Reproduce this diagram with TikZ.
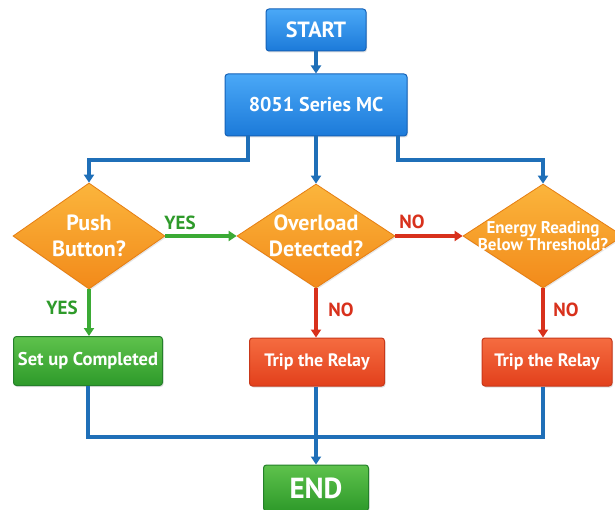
\documentclass[tikz,border=0pt]{standalone}
\usepackage{fontspec}
\setmainfont{PT Sans}
\usetikzlibrary{arrows.meta,shapes.geometric,shadows}
\definecolor{blueTop}{HTML}{4AA8F7}
\definecolor{blueBot}{HTML}{1C7AD9}
\definecolor{blueBorder}{HTML}{1562B8}
\definecolor{orTop}{HTML}{FBB53C}
\definecolor{orBot}{HTML}{F28A1A}
\definecolor{orBorder}{HTML}{E67E12}
\definecolor{grTop}{HTML}{5EC24C}
\definecolor{grBot}{HTML}{2E9A2A}
\definecolor{grBorder}{HTML}{24802A}
\definecolor{rdTop}{HTML}{F56C40}
\definecolor{rdBot}{HTML}{E2401C}
\definecolor{rdBorder}{HTML}{C8381A}
\definecolor{lineBlue}{HTML}{1F6FB8}
\definecolor{lineGreen}{HTML}{3BAA35}
\definecolor{lineRed}{HTML}{D8311C}
\definecolor{txtGreen}{HTML}{2E9A2A}
\definecolor{txtRed}{HTML}{D8311C}
\tikzset{
  box/.style={rectangle, rounded corners=3pt, line width=1pt, text=white,
    font=\bfseries, inner sep=0pt, align=center,
    drop shadow={shadow xshift=1pt, shadow yshift=-1.5pt, opacity=0.25}},
  bluebox/.style={box, draw=blueBorder, top color=blueTop, bottom color=blueBot},
  greenbox/.style={box, draw=grBorder, top color=grTop, bottom color=grBot},
  redbox/.style={box, draw=rdBorder, top color=rdTop, bottom color=rdBot},
  decision/.style={diamond, draw=orBorder, line width=0.8pt, top color=orTop,
    bottom color=orBot, inner sep=0pt,
    drop shadow={shadow xshift=1pt, shadow yshift=-1.5pt, opacity=0.2}},
  dtext/.style={text=white, font=\bfseries, align=center},
  conn/.style={line width=3.2pt, draw=lineBlue, -{Triangle[width=10pt,length=8pt]}},
  plainconn/.style={line width=3.2pt, draw=lineBlue},
  gconn/.style={line width=3.2pt, draw=lineGreen, -{Triangle[width=10pt,length=8pt]}},
  rconn/.style={line width=3.2pt, draw=lineRed, -{Triangle[width=10pt,length=8pt]}},
  yeslbl/.style={text=txtGreen, font=\bfseries\fontsize{19}{21}\selectfont},
  nolbl/.style={text=txtRed, font=\bfseries\fontsize{19}{21}\selectfont},
}
\begin{document}
\begin{tikzpicture}[x=1pt, y=-1pt]
\useasboundingbox (0,0) rectangle (615,510);
\fill[white] (0,0) rectangle (615,510);

% boxes
\node[bluebox, minimum width=100pt, minimum height=42pt,
  font=\bfseries\fontsize{22}{24}\selectfont] (start) at (316,30) {START};
\node[bluebox, minimum width=182pt, minimum height=62pt,
  font=\bfseries\fontsize{20}{24}\selectfont] (mc) at (316,105) {8051 Series MC};

% decisions
\node[decision, minimum width=152pt, minimum height=106pt,
  label={[dtext, font=\bfseries\fontsize{22}{26}\selectfont]center:Push\\Button?}] (d1) at (89,236) {};
\node[decision, minimum width=158pt, minimum height=104pt,
  label={[dtext, font=\bfseries\fontsize{22}{26}\selectfont]center:Overload\\Detected?}] (d2) at (316,236) {};
\node[decision, minimum width=160pt, minimum height=104pt,
  label={[dtext, font=\bfseries\fontsize{17}{17}\selectfont]center:Energy Reading\\Below Threshold?}] (d3) at (543,236) {};

% action boxes
\node[greenbox, minimum width=149pt, minimum height=49pt,
  font=\bfseries\fontsize{18.5}{20}\selectfont] (s) at (88,361) {Set up Completed};
\node[redbox, minimum width=135pt, minimum height=48pt,
  font=\bfseries\fontsize{18}{20}\selectfont] (t1) at (317,362) {Trip the Relay};
\node[redbox, minimum width=130pt, minimum height=48pt,
  font=\bfseries\fontsize{18}{20}\selectfont] (t2) at (547,362) {Trip the Relay};

\node[greenbox, minimum width=105pt, minimum height=46pt,
  font=\bfseries\fontsize{29}{30}\selectfont] (end) at (316,488) {END};

% coordinates
\coordinate (b1) at (248,160);
\coordinate (b3) at (398,160);
\coordinate (m) at (316,437);

% connectors
\draw[conn] (start) -- (mc);
\draw[conn] (mc.south -| b1) -- (b1) -| (d1.north);
\draw[conn] (mc.south) -- (d2.north);
\draw[conn] (mc.south -| b3) -- (b3) -| (d3.north);

\draw[gconn] (d1.east) -- (d2.west);
\draw[rconn] (d2.east) -- (d3.west);
\draw[gconn] (d1.south) -- (s.north -| d1.south);
\draw[rconn] (d2.south) -- (t1.north -| d2.south);
\draw[rconn] (d3.south) -- (t2.north -| d3.south);

\draw[plainconn] (s.south) |- (m);
\draw[plainconn] (t2.south -| d3.south) |- (m);
\draw[conn] (t1.south -| m) -- (end.north);

% labels
\node[yeslbl] (l1) at (180,223) {YES};
\node[nolbl] (l2) at (412,222) {NO};
\node[yeslbl] (l3) at (62,308) {YES};
\node[nolbl] (l4) at (341,310) {NO};
\node[nolbl] (l5) at (566,310) {NO};
\end{tikzpicture}
\end{document}
